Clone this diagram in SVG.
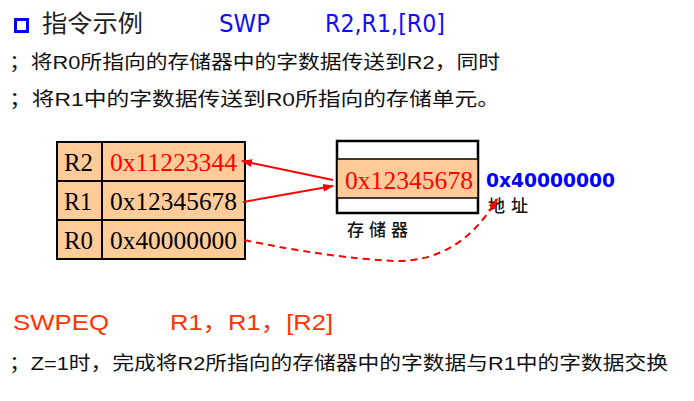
<svg xmlns="http://www.w3.org/2000/svg" width="694" height="401" viewBox="0 0 694 401">
  <style>
    .cjk { font-family: "Liberation Sans", "Noto Sans CJK SC", sans-serif; fill: #111; }
    .ins { font-family: "DejaVu Sans", "Noto Sans CJK SC", sans-serif; fill: #1010F0; }
    .red { font-family: "Liberation Sans", "Noto Sans CJK SC", sans-serif; fill: #FF3300; }
    .reg { font-family: "Liberation Serif", "Noto Sans CJK SC", serif; font-size: 26px; fill: #000; }
    .cell { fill: #FFCC99; stroke: #000; stroke-width: 2; }
    .link { fill: none; stroke: #F00; stroke-width: 2; }
  </style>
  <defs>
    <marker id="head" markerUnits="userSpaceOnUse" markerWidth="11" markerHeight="8" refX="10" refY="4" orient="auto">
      <path d="M0,0 L11,4 L0,8 Z" fill="#F00"/>
    </marker>
  </defs>
  <rect width="694" height="401" fill="#fff"/>

  <!-- heading -->
  <g id="heading">
    <rect x="15.5" y="19.5" width="12" height="12" fill="none" stroke="#0000FF" stroke-width="3"/>
    <text class="cjk" x="42" y="32" font-size="24" textLength="101" lengthAdjust="spacingAndGlyphs" style="fill:#222">指令示例</text>
    <text class="ins" x="219" y="32" font-size="25" textLength="51" lengthAdjust="spacingAndGlyphs">SWP</text>
    <text class="ins" x="325" y="32" font-size="25" textLength="120" lengthAdjust="spacingAndGlyphs">R2,R1,[R0]</text>
  </g>

  <!-- comment lines -->
  <g id="notes">
    <text class="cjk" x="9" y="69" font-size="19" textLength="491" lengthAdjust="spacingAndGlyphs">；将R0所指向的存储器中的字数据传送到R2，同时</text>
    <text class="cjk" x="9" y="106" font-size="19" textLength="491" lengthAdjust="spacingAndGlyphs">；将R1中的字数据传送到R0所指向的存储单元。</text>
  </g>

  <!-- register file -->
  <g id="registers">
    <rect class="cell" x="57" y="142" width="188" height="117"/>
    <line x1="57" y1="181" x2="245" y2="181" stroke="#000" stroke-width="2"/>
    <line x1="57" y1="220" x2="245" y2="220" stroke="#000" stroke-width="2"/>
    <line x1="102" y1="142" x2="102" y2="259" stroke="#000" stroke-width="2"/>
    <g id="reg-r2">
      <text class="reg" x="64" y="171" textLength="29" lengthAdjust="spacingAndGlyphs">R2</text>
      <text class="reg" x="110" y="171" textLength="127" lengthAdjust="spacingAndGlyphs" style="fill:#F00">0x11223344</text>
    </g>
    <g id="reg-r1">
      <text class="reg" x="64" y="210" textLength="28" lengthAdjust="spacingAndGlyphs">R1</text>
      <text class="reg" x="110" y="210" textLength="127" lengthAdjust="spacingAndGlyphs">0x12345678</text>
    </g>
    <g id="reg-r0">
      <text class="reg" x="64" y="249" textLength="29" lengthAdjust="spacingAndGlyphs">R0</text>
      <text class="reg" x="110" y="249" textLength="127" lengthAdjust="spacingAndGlyphs">0x40000000</text>
    </g>
  </g>

  <!-- memory -->
  <g id="memory">
    <rect x="337" y="141" width="141" height="72" fill="#fff" stroke="#000" stroke-width="2.5"/>
    <rect x="337" y="159" width="141" height="39" fill="#FFCC99" stroke="#000" stroke-width="1.5"/>
    <text class="reg" x="345" y="189" textLength="128" lengthAdjust="spacingAndGlyphs" style="fill:#F00">0x12345678</text>
    <text class="cjk" x="347" y="236" font-size="17" font-weight="500" textLength="61" lengthAdjust="spacing">存储器</text>
  </g>

  <g id="address">
    <text x="486" y="187" font-family="DejaVu Sans, sans-serif" font-weight="bold" font-size="19" fill="#0000FF" textLength="129" lengthAdjust="spacingAndGlyphs">0x40000000</text>
    <text class="cjk" x="488" y="212" font-size="17" font-weight="500" textLength="40" lengthAdjust="spacing">地址</text>
  </g>

  <!-- data paths -->
  <g id="connectors">
    <line class="link" x1="333" y1="180" x2="242" y2="161" marker-end="url(#head)"/>
    <line class="link" x1="243" y1="202" x2="333" y2="186" marker-end="url(#head)"/>
    <path class="link" d="M244,240 Q330,258 395,261 Q460,262 497,199" stroke-dasharray="7,5" marker-end="url(#head)"/>
  </g>

  <!-- conditional variant -->
  <g id="swpeq">
    <text class="red" x="13" y="330" font-size="22" textLength="96" lengthAdjust="spacingAndGlyphs">SWPEQ</text>
    <text class="red" x="170" y="330" font-size="22" textLength="163" lengthAdjust="spacingAndGlyphs">R1，R1，[R2]</text>
    <text class="cjk" x="9" y="370" font-size="19" textLength="659" lengthAdjust="spacingAndGlyphs">；Z=1时，完成将R2所指向的存储器中的字数据与R1中的字数据交换</text>
  </g>
</svg>
